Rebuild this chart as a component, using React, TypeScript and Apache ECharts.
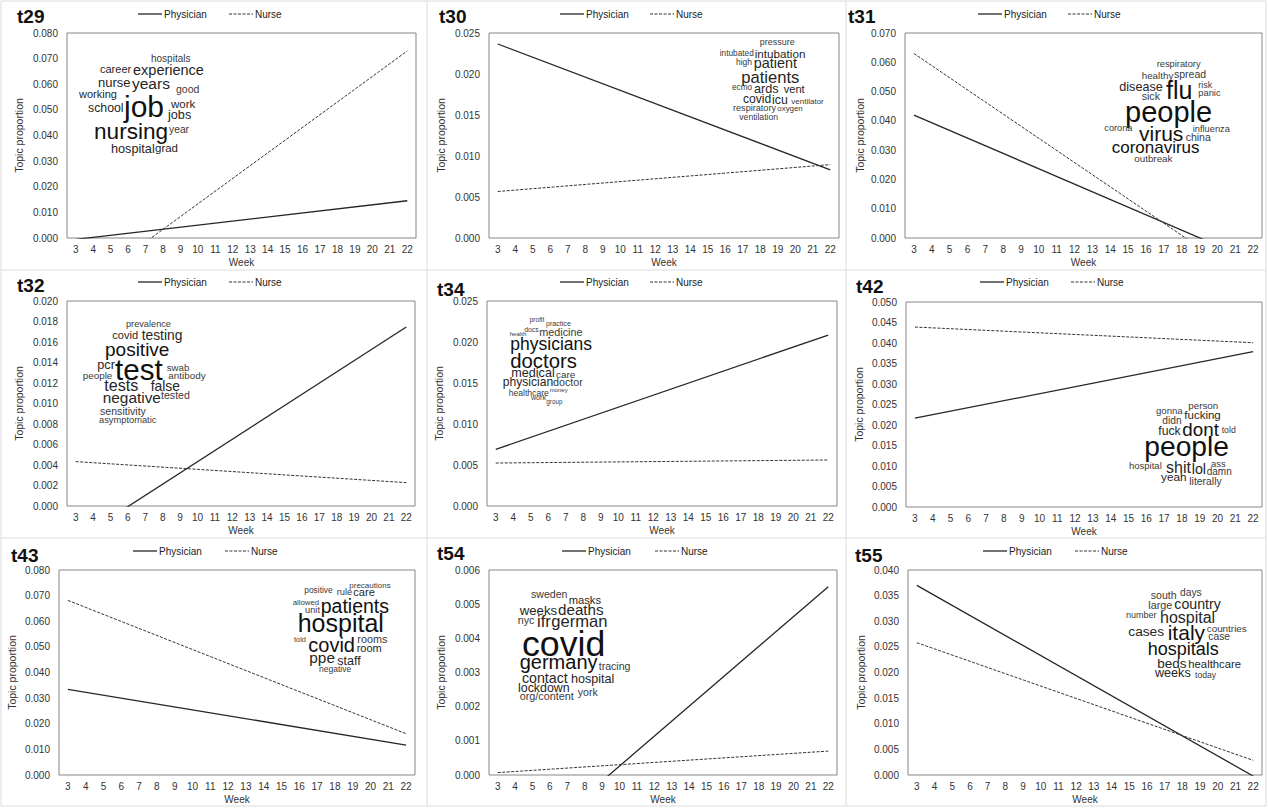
import React, { useEffect, useRef } from "react";
import * as echarts from "echarts";

// ---------- DATA ----------
const weeks = ["3", "4", "5", "6", "7", "8", "9", "10", "11", "12", "13", "14", "15", "16", "17", "18", "19", "20", "21", "22"];
const topics = ["t29", "t30", "t31", "t32", "t34", "t42", "t43", "t54", "t55"];
// fitted trend lines: value at week 3 and at week 22
const physicianStart = [-0.00053, 0.02366, 0.04198, -0.00334, 0.00691, 0.02166, 0.03342, -0.0028, 0.037];
const physicianEnd = [0.01453, 0.00831, -0.0078, 0.01746, 0.02085, 0.03787, 0.0117, 0.00551, -0.0002];
const nurseStart = [-0.0215, 0.00567, 0.063, 0.00433, 0.00524, 0.04389, 0.06814, 0.00007, 0.02581];
const nurseEnd = [0.073, 0.00895, -0.01564, 0.00228, 0.00561, 0.04007, 0.01612, 0.0007, 0.00286];
const yMax = [0.08, 0.025, 0.07, 0.02, 0.025, 0.05, 0.08, 0.006, 0.04];
const yStep = [0.01, 0.005, 0.01, 0.002, 0.005, 0.005, 0.01, 0.001, 0.005];

// word clouds: [word, left x, middle y, font size]
const clouds: [string, number, number, number][][] = [
  [
    ["hospitals", 151, 58, 10], ["career", 100, 69, 11], ["experience", 133, 70, 14.5],
    ["nurse", 98, 82, 13], ["years", 132, 83, 15.5], ["good", 176, 89, 10.5],
    ["working", 79, 94, 11], ["job", 124, 106, 30], ["school", 88, 108, 12.3],
    ["work", 171, 104, 11.5], ["jobs", 168, 115, 12.7], ["nursing", 94, 131, 22.6],
    ["year", 169, 129, 10.3], ["hospital", 111, 149, 12.7], ["grad", 155, 148, 11.5],
  ],
  [
    ["pressure", 759.7, 42, 9], ["intubated", 719.7, 53, 8.3], ["intubation", 754.7, 53, 11.7],
    ["high", 736, 62, 8.5], ["patient", 753.7, 63, 14.4], ["patients", 741.3, 77, 16.6],
    ["ecmo", 732, 87, 8.2], ["ards", 754, 89, 12.7], ["vent", 783.7, 89, 11.1],
    ["covid", 743, 99, 12.1], ["icu", 772, 100, 12.3], ["ventilator", 791.3, 101, 8],
    ["respiratory", 733, 108, 9.1], ["oxygen", 777.3, 108, 7.9], ["ventilation", 739.3, 117, 8.6],
  ],
  [
    ["respiratory", 1156.7, 64, 9.3], ["healthy", 1141.7, 75, 9.8], ["spread", 1174, 74, 10.5],
    ["disease", 1119.3, 87, 12.6], ["flu", 1166, 90, 25], ["risk", 1198.3, 85, 9],
    ["panic", 1198.3, 93, 9.3], ["sick", 1141.7, 96, 10.6], ["people", 1125, 112, 29],
    ["corona", 1104.3, 128, 9.2], ["virus", 1139, 133, 21], ["influenza", 1192.7, 129, 9.3],
    ["china", 1185.7, 137, 10.5], ["coronavirus", 1111.7, 147, 17], ["outbreak", 1134.3, 158, 9.8],
  ],
  [
    ["prevalence", 126, 324, 9.2], ["covid", 112.3, 335, 11.1], ["testing", 141.7, 335, 13.8],
    ["positive", 105, 349, 19], ["pcr", 97.3, 365, 12.7], ["test", 115, 369, 29.6],
    ["swab", 166.7, 367, 9.7], ["people", 82.7, 375, 9.9], ["antibody", 168.3, 375, 9.9],
    ["tests", 104.3, 385, 16.1], ["false", 150.7, 386, 13.9], ["negative", 102.7, 397, 15.4],
    ["tested", 161, 395, 10.6], ["sensitivity", 100, 411, 10.6], ["asymptomatic", 99, 420, 9.3],
  ],
  [
    ["profit", 529.7, 319, 6.6], ["practice", 546, 324, 7.1], ["health", 509.7, 333, 6.1],
    ["docs", 524.3, 329, 6.8], ["medicine", 539.3, 332, 10.8], ["physicians", 510.3, 344, 17.5],
    ["doctors", 510.3, 361, 20.3], ["medical", 511.3, 373, 12.6], ["care", 556, 374, 9.9],
    ["physician", 502.7, 382, 12.1], ["doctor", 553, 382, 10.7], ["healthcare", 508.7, 393, 8.6],
    ["money", 549.7, 390, 6], ["work", 531, 398, 7.1], ["group", 546.3, 401, 6.3],
  ],
  [
    ["gonna", 1156, 410, 9.6], ["person", 1188.3, 405, 9.8], ["didn", 1162.3, 420, 10.2],
    ["fucking", 1184.3, 415, 11.5], ["fuck", 1158.3, 431, 12.2], ["dont", 1182.3, 429, 18.8],
    ["told", 1221.7, 430, 8.7], ["people", 1144.3, 446, 28.2], ["hospital", 1129, 465, 9.5],
    ["shit", 1166, 467, 16], ["lol", 1191.7, 469, 14.3], ["ass", 1211, 463, 9.4],
    ["damn", 1206.7, 471, 10], ["yeah", 1161, 477, 11.8], ["literally", 1189.3, 481, 10.4],
  ],
  [
    ["precautions", 349.3, 585, 8], ["positive", 304.3, 590, 8.4], ["rule", 336.7, 591, 9.4],
    ["care", 353.3, 592, 11.1], ["allowed", 292.7, 602, 7.8], ["unit", 305, 610, 9.3],
    ["patients", 320.7, 606, 19.5], ["hospital", 297.7, 623, 25], ["told", 294, 639, 7.4],
    ["covid", 308.3, 645, 20], ["rooms", 357.3, 639, 10.8], ["room", 356.7, 648, 11],
    ["ppe", 309.3, 657, 15.4], ["staff", 337.3, 661, 12.5], ["negative", 319, 669, 8.5],
  ],
  [
    ["sweden", 531, 594, 10.6], ["masks", 568.7, 600, 11.2], ["weeks", 519.7, 610, 13.2],
    ["deaths", 558, 609, 15.2], ["nyc", 517.7, 620, 10.7], ["ifr", 537, 621, 16.6],
    ["german", 551.3, 621, 16.6], ["covid", 522, 644, 35.7], ["germany", 519.7, 662, 20],
    ["tracing", 598.7, 666, 10.6], ["contact", 522, 678, 14.2], ["hospital", 571, 679, 12.6],
    ["lockdown", 518, 688, 12.4], ["york", 577.7, 692, 10.6], ["org/content", 519.7, 696, 10.8],
  ],
  [
    ["south", 1150.7, 595, 10.6], ["days", 1180, 592, 10.3], ["large", 1148.3, 605, 10.8],
    ["country", 1174.3, 604, 14.2], ["number", 1126, 615, 9], ["hospital", 1160, 617, 16],
    ["cases", 1128.3, 631, 13.7], ["italy", 1167.7, 632, 21], ["countries", 1206.7, 628, 9.9],
    ["case", 1208.3, 636, 10.3], ["hospitals", 1147.7, 649, 18], ["beds", 1157.3, 663, 13.5],
    ["healthcare", 1188.3, 664, 11.3], ["weeks", 1155, 673, 12.6], ["today", 1195, 675, 8.6],
  ],
];

// ---------- LAYOUT ----------
const gridBox = [
  [67, 33, 349, 205], [489, 33, 350, 205], [905, 33, 357, 205],
  [67, 301, 348, 205], [487, 301, 350, 205], [906, 302, 356, 205],
  [59, 570, 356, 205], [489, 570, 348, 205], [908, 570, 354, 205],
];
const yNameGap = [43, 43, 40, 43, 43, 42, 42, 43, 42];
const titlePos = [
  [17, 16], [439, 16], [848, 16], [17, 285], [437, 289], [856, 286], [11, 555], [437, 553], [855, 555],
];
const legendPos = [
  [138, 14, 229], [560, 14, 650], [978, 14, 1068], [138, 282, 229], [560, 282, 650],
  [980, 282, 1071], [133, 551, 225], [562, 551, 655], [983, 551, 1075],
];

const FONT = '"Liberation Sans", Arial, Helvetica, sans-serif';

function trend(a: number, b: number) {
  const d: (number | null)[] = weeks.map(() => null);
  d[0] = a;
  d[d.length - 1] = b;
  return d;
}

export default function App() {
  const ref = useRef<HTMLDivElement>(null);
  useEffect(() => {
    document.body.style.margin = "0";
    if (!ref.current) return;
    const chart = echarts.init(ref.current, undefined, { renderer: "svg" });

    const grid: any[] = [];
    const xAxis: any[] = [];
    const yAxis: any[] = [];
    const series: any[] = [];
    const graphic: any[] = [];

    // panel frames
    graphic.push({ type: "rect", silent: true, shape: { x: 1, y: 1, width: 1265, height: 805 }, style: { fill: "none", stroke: "#dcdcdc", lineWidth: 1 } });
    [427, 846].forEach((x) =>
      graphic.push({ type: "line", silent: true, shape: { x1: x, y1: 1, x2: x, y2: 806 }, style: { stroke: "#dcdcdc", lineWidth: 1 } })
    );
    [270, 538].forEach((y) =>
      graphic.push({ type: "line", silent: true, shape: { x1: 1, y1: y, x2: 1266, y2: y }, style: { stroke: "#dcdcdc", lineWidth: 1 } })
    );

    topics.forEach((t, i) => {
      const [l, tp, w, h] = gridBox[i];
      grid.push({ left: l, top: tp, width: w, height: h, show: true, borderColor: "#858585", borderWidth: 1, backgroundColor: "transparent" });
      xAxis.push({
        type: "category", gridIndex: i, data: weeks, boundaryGap: true,
        axisLine: { show: false }, axisTick: { show: false },
        axisLabel: { interval: 0, fontSize: 10, color: "#333", margin: 6, fontFamily: FONT },
        name: "Week", nameLocation: "middle", nameGap: 19,
        nameTextStyle: { fontSize: 10, color: "#333", fontFamily: FONT },
      });
      yAxis.push({
        type: "value", gridIndex: i, min: 0, max: yMax[i], interval: yStep[i],
        axisLine: { show: false }, axisTick: { show: false }, splitLine: { show: false },
        axisLabel: { fontSize: 10, color: "#333", margin: 9, fontFamily: FONT, formatter: (v: number) => v.toFixed(3) },
        name: "Topic proportion", nameLocation: "middle", nameGap: yNameGap[i],
        nameTextStyle: { fontSize: 10.5, color: "#333", fontFamily: FONT },
      });
      series.push({
        type: "line", name: "Physician", xAxisIndex: i, yAxisIndex: i,
        data: trend(physicianStart[i], physicianEnd[i]), connectNulls: true,
        symbol: "none", clip: true, lineStyle: { color: "#262626", width: 1.3 },
      });
      series.push({
        type: "line", name: "Nurse", xAxisIndex: i, yAxisIndex: i,
        data: trend(nurseStart[i], nurseEnd[i]), connectNulls: true,
        symbol: "none", clip: true, lineStyle: { color: "#333", width: 1, type: [3, 1.5] },
      });

      // title
      graphic.push({
        type: "text", silent: true, x: titlePos[i][0], y: titlePos[i][1],
        style: { text: t, fontSize: 19, fontWeight: "bold", fontFamily: FONT, fill: "#111", align: "left", verticalAlign: "middle" },
      });
      // legend
      const [lx, ly, nx] = legendPos[i];
      graphic.push({ type: "line", silent: true, shape: { x1: lx, y1: ly, x2: lx + 24, y2: ly }, style: { stroke: "#262626", lineWidth: 1.3 } });
      graphic.push({ type: "text", silent: true, x: lx + 26, y: ly, style: { text: "Physician", fontSize: 10, fontFamily: FONT, fill: "#222", align: "left", verticalAlign: "middle" } });
      graphic.push({ type: "line", silent: true, shape: { x1: nx, y1: ly, x2: nx + 24, y2: ly }, style: { stroke: "#333", lineWidth: 1, lineDash: [3, 1.5] } });
      graphic.push({ type: "text", silent: true, x: nx + 26, y: ly, style: { text: "Nurse", fontSize: 10, fontFamily: FONT, fill: "#222", align: "left", verticalAlign: "middle" } });

      // word cloud
      clouds[i].forEach(([word, x, y, s]) => {
        graphic.push({
          type: "text", silent: true, x, y, z: 10,
          style: {
            text: word, fontSize: s, fontFamily: FONT,
            fill: s >= 17 ? "#111" : s >= 11 ? "#262626" : "#3a3a3a",
            align: "left", verticalAlign: "middle",
          },
        });
      });
    });

    chart.setOption({
      animation: false,
      backgroundColor: "#ffffff",
      grid, xAxis, yAxis, series, graphic,
    });
    return () => chart.dispose();
  }, []);

  return <div ref={ref} style={{ width: 1268, height: 808, position: "absolute", left: 0, top: 0 }} />;
}
